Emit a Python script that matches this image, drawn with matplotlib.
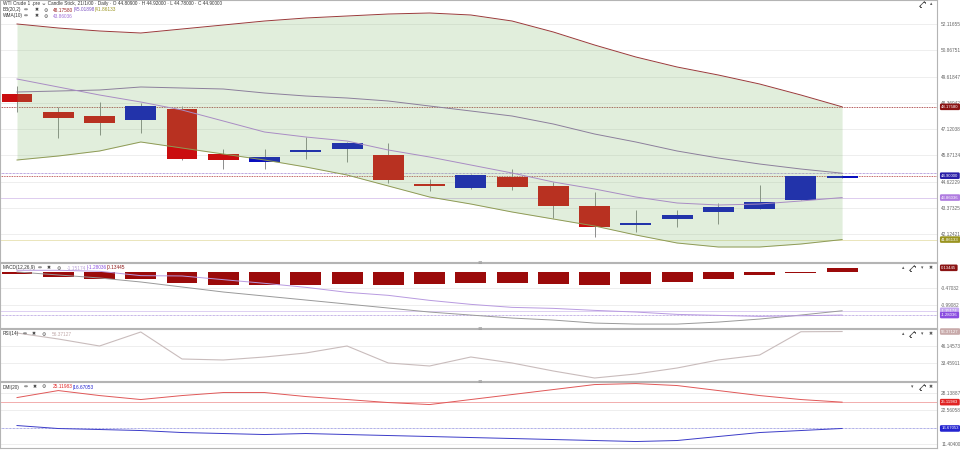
import numpy as np
import matplotlib.pyplot as plt
import matplotlib.transforms as mtransforms
from matplotlib.patches import Rectangle

plt.rcParams['font.family'] = ['Liberation Sans', 'DejaVu Sans']

W, H = 960, 458

# daily candles, WTI Crude
opens = [48.786, 47.930, 47.754, 47.535, 48.087, 45.931, 45.565, 46.013, 46.170, 45.884, 44.519,
         44.329, 44.852, 44.424, 43.473, 42.555, 42.840, 43.159, 43.330, 43.744, 44.809]
highs = [49.167, 48.168, 48.420, 48.358, 48.215, 46.170, 46.170, 46.755, 46.518, 46.456, 44.743,
         44.960, 45.233, 44.614, 44.139, 43.268, 43.268, 43.616, 44.458, 44.886, 44.920]
lows = [47.930, 46.693, 46.836, 46.931, 45.646, 45.218, 45.233, 45.680, 45.565, 44.538, 44.186,
        44.267, 44.220, 42.873, 41.998, 42.236, 42.474, 42.602, 43.302, 43.744, 44.780]
closes = [48.406, 47.645, 47.392, 48.215, 45.708, 45.646, 45.803, 46.089, 46.441, 44.695, 44.410,
          44.933, 44.377, 43.458, 42.474, 42.664, 43.030, 43.425, 43.663, 44.886, 44.900]

# Bollinger(20,2) and WMA(10)
bb_up = [52.117, 51.926, 51.784, 51.688, 51.879, 52.069, 52.259, 52.402, 52.497, 52.592, 52.640,
         52.545, 52.259, 51.736, 51.117, 50.547, 50.071, 49.690, 49.262, 48.739, 48.176]
bb_mid = [48.882, 48.929, 48.977, 49.120, 49.072, 49.024, 48.834, 48.691, 48.596, 48.453, 48.215,
          47.978, 47.739, 47.359, 46.883, 46.503, 46.075, 45.742, 45.456, 45.218, 45.019]
bb_low = [45.647, 45.837, 46.075, 46.503, 46.217, 45.932, 45.647, 45.314, 44.933, 44.410, 43.886,
          43.553, 43.173, 42.840, 42.507, 42.079, 41.698, 41.508, 41.508, 41.650, 41.861]
wma10 = [49.500, 49.119, 48.739, 48.406, 48.025, 47.502, 46.978, 46.741, 46.550, 46.122, 45.789,
         45.409, 45.028, 44.600, 44.267, 43.886, 43.601, 43.506, 43.553, 43.696, 43.860]

# MACD(12,26,9)
macd_line = [0.01, -0.08, -0.17, -0.29, -0.44, -0.59, -0.71, -0.83, -0.95, -1.07, -1.19,
             -1.28, -1.37, -1.43, -1.52, -1.55, -1.55, -1.49, -1.40, -1.28, -1.152]
macd_signal = [0.06, 0.06, 0.03, -0.10, -0.11, -0.22, -0.33, -0.45, -0.60, -0.69, -0.84,
               -0.96, -1.05, -1.08, -1.14, -1.19, -1.26, -1.29, -1.32, -1.30, -1.280]
macd_hist = [-0.05, -0.14, -0.20, -0.19, -0.33, -0.37, -0.38, -0.38, -0.35, -0.38, -0.35,
             -0.32, -0.32, -0.35, -0.38, -0.36, -0.29, -0.20, -0.08, -0.02, 0.134]

# RSI(14)
rsi = [55.30, 50.98, 45.93, 56.02, 36.56, 35.84, 38.00, 40.88, 45.93, 33.68, 31.52,
       38.00, 33.68, 27.91, 22.86, 25.75, 30.07, 35.84, 39.44, 56.20, 56.37]

# DMI(20)
dmi_plus = [26.61, 28.88, 27.26, 25.97, 27.26, 28.24, 28.24, 26.94, 25.97, 24.99, 24.34,
            25.97, 27.59, 29.21, 30.83, 31.15, 30.51, 28.88, 27.26, 25.97, 25.12]
dmi_minus = [17.53, 16.56, 16.24, 15.91, 15.26, 14.94, 14.61, 14.94, 14.61, 14.29, 13.97,
             13.64, 13.32, 12.99, 12.67, 12.34, 12.67, 13.97, 15.26, 15.91, 16.58]

price_ticks = [42.12421, 43.37325, 44.62229, 45.87134, 47.12038, 48.36942, 49.61847, 50.86751, 52.11655]
macd_ticks = [-0.47032, -0.99082]
rsi_ticks = [46.14573, 33.45911]
dmi_ticks = [28.13887, 22.56058, 11.40400]

red = '#ca0d0f'
blue = '#0a0fbe'
fs = 3.4


def box(x0, y0, x1, y1):
    return [x0 / W, 1 - y1 / H, (x1 - x0) / W, (y1 - y0) / H]


def ftext(x, y, s, ha='left', **kw):
    return fig.text(x / W, 1 - y / H, s, va='center', ha=ha, fontsize=kw.pop('fontsize', fs), **kw)


def pieces(x, y, parts):
    # colored pieces written one after the other
    r = fig.canvas.get_renderer()
    for s, col in parts:
        t = ftext(x, y, s, color=col)
        x += t.get_window_extent(r).width


def header(y, name, x_icons, x_val, parts):
    ftext(3, y, name, color='#333333')
    for xi, ch in zip(x_icons, ['\u21d4', '\u2716', '\u2699']):
        ftext(xi, y, ch, ha='center', color='#444444', family=['DejaVu Sans'])
    pieces(x_val, y, parts)


def expand_icon(x, y):
    # diagonal double arrow (no installed font has the glyph)
    fig.add_artist(plt.Line2D([(x - 2.5) / W, (x + 2.5) / W], [1 - (y + 2.5) / H, 1 - (y - 2.5) / H],
                              color='#555555', lw=0.6))
    for sx, sy in ((x + 2.5, y - 2.5), (x - 2.5, y + 2.5)):
        dx = -1.6 if sx > x else 1.6
        dy = 1.6 if sy < y else -1.6
        fig.add_artist(plt.Line2D([sx / W, (sx + dx) / W, sx / W, sx / W],
                                  [1 - sy / H, 1 - sy / H, 1 - sy / H, 1 - (sy + dy) / H],
                                  color='#555555', lw=0.6))


def badge(a, val, label, color):
    tr = mtransforms.blended_transform_factory(a.transAxes, a.transData)
    a.text(1.0045, val, label, transform=tr, fontsize=3.1, color='white', va='center', ha='left',
           clip_on=False, bbox=dict(boxstyle='round,pad=0.3', fc=color, ec='none'))


fig = plt.figure(figsize=(9.6, 4.58), dpi=100)
ax = fig.add_axes(box(0, 0, 937, 262))
ax_macd = fig.add_axes(box(0, 263, 937, 328))
ax_rsi = fig.add_axes(box(0, 329, 937, 381))
ax_dmi = fig.add_axes(box(0, 382, 937, 448))

for a in (ax, ax_macd, ax_rsi, ax_dmi):
    a.set_xlim(-0.412, 22.30)
    a.set_xticks([])
    a.yaxis.tick_right()
    a.tick_params(axis='y', length=0, labelsize=fs, colors='#666666', pad=3)
    for s in a.spines.values():
        s.set_color('#b4b4b4')
        s.set_linewidth(0.8)
    a.grid(axis='y', color='#ebebeb', lw=0.6)
    a.set_axisbelow(True)

idx = np.arange(len(closes))

# ---- main pane
for i in idx:
    o, c = opens[i], closes[i]
    col = blue if c >= o else red
    ax.vlines(i, lows[i], highs[i], color='#8c8c8c', lw=0.7, zorder=2)
    lo, hi = min(o, c), max(o, c)
    ax.add_patch(Rectangle((i - 0.375, lo), 0.75, max(hi - lo, 0.09), fc=col, ec='none', zorder=3))

ax.fill_between(idx, bb_low, bb_up, color='#78b464', alpha=0.22, lw=0, zorder=4)
ax.plot(idx, bb_up, color='#9a3a3a', lw=0.7, zorder=5)
ax.plot(idx, bb_mid, color='#8c7f9c', lw=0.7, zorder=5)
ax.plot(idx, bb_low, color='#8f9a55', lw=0.7, zorder=5)
ax.plot(idx, wma10, color='#a98cc4', lw=0.7, zorder=5)

ax.axhline(bb_up[-1], color='#9a2020', ls=(0, (1, 1)), lw=0.6, zorder=1)
ax.axhline(closes[-1], color='#b03030', ls=(0, (1, 1)), lw=0.6, zorder=1)
ax.axhline(bb_mid[-1], color='#7a50c0', ls=(0, (1, 1)), lw=0.5, zorder=1)
ax.axhline(wma10[-1], color='#d8c4ec', lw=0.6, zorder=1)
ax.axhline(bb_low[-1], color='#e6e0b0', lw=0.6, zorder=1)

ax.set_ylim(40.7941, 53.2583)
ax.set_yticks(price_ticks)
ax.set_yticklabels([f'{v:.5f}' for v in price_ticks])
badge(ax, bb_up[-1], '48.17580', '#8b1414')
badge(ax, closes[-1], '44.90000', '#2a1fa8')
badge(ax, wma10[-1], '43.86036', '#b07ce0')
badge(ax, bb_low[-1], '41.86133', '#9a9420')

# ---- MACD pane
ax_macd.bar(idx, macd_hist, width=0.75, color='#9b0a0a', zorder=3)
ax_macd.plot(idx, macd_line, color='#9a9a9a', lw=0.7, zorder=4)
ax_macd.plot(idx, macd_signal, color='#b89ae0', lw=0.7, zorder=4)
ax_macd.axhline(macd_line[-1], color='#d8c8f0', lw=0.6, zorder=1)
ax_macd.axhline(macd_signal[-1], color='#9070d0', ls=(0, (1, 1)), lw=0.5, zorder=1)
ax_macd.set_ylim(-1.6677, 0.2784)
ax_macd.set_yticks(macd_ticks)
ax_macd.set_yticklabels([f'{v:.5f}' for v in macd_ticks])
badge(ax_macd, macd_hist[-1], '0.13445', '#8b1414')
badge(ax_macd, macd_line[-1], '-1.15174', '#c4a8f0')
badge(ax_macd, macd_signal[-1], '-1.28036', '#8a4ee0')

# ---- RSI pane
ax_rsi.plot(idx, rsi, color='#c9bcbc', lw=0.8, zorder=4)
ax_rsi.set_ylim(20.70, 58.18)
ax_rsi.set_yticks(rsi_ticks)
ax_rsi.set_yticklabels([f'{v:.5f}' for v in rsi_ticks])
badge(ax_rsi, rsi[-1], '56.37127', '#c8aaaa')

# ---- DMI pane
ax_dmi.plot(idx, dmi_plus, color='#e05858', lw=0.7, zorder=4)
ax_dmi.plot(idx, dmi_minus, color='#3c3cc8', lw=0.7, zorder=4)
ax_dmi.axhline(dmi_plus[-1], color='#f0a0a0', lw=0.6, zorder=1)
ax_dmi.axhline(dmi_minus[-1], color='#6060d0', ls=(0, (1, 1)), lw=0.5, zorder=1)
ax_dmi.set_ylim(10.24, 31.66)
ax_dmi.set_yticks(dmi_ticks)
ax_dmi.set_yticklabels([f'{v:.5f}' for v in dmi_ticks])
badge(ax_dmi, dmi_plus[-1], '25.11983', '#e02424')
badge(ax_dmi, dmi_minus[-1], '16.67053', '#2424d0')

# ---- headers (pixel positions)
ftext(3, 4, 'WTI Crude 1 .pre \u21d4 Candle Stick, 21/1/00 \u00b7 Daily \u00b7 O 44.80900 \u00b7 '
      'H 44.92000 \u00b7 L 44.78000 \u00b7 C 44.90000', color='#333333')
header(10, 'BB(20,2)', (26, 37, 46), 53,
       [('48.17580', '#9a2020'), ('|45.01898', '#7a50c0'), ('|41.86133', '#9a9420')])
header(16, 'WMA(10)', (26, 37, 46), 53, [('43.86036', '#a070d8')])
header(268, 'MACD(12,26,9)', (40, 49, 59), 67,
       [('-1.15174', '#b8a0d8'), ('|-1.28036', '#8a4ee0'), ('|0.13445', '#8b1414')])
header(334, 'RSI(14)', (25, 34, 44), 52, [('56.37127', '#c0a8a8')])
header(387, 'DMI(20)', (26, 35, 44), 53, [('25.11983', '#e02424'), ('|16.67053', '#2424d0')])

# pane controls
tri = ['DejaVu Sans']
expand_icon(922, 4)
ftext(931, 4, '\u25b4', ha='center', color='#555555', family=tri)
for y in (268, 334):
    ftext(903, y, '\u25b4', ha='center', color='#555555', family=tri)
    expand_icon(912, y)
    ftext(922, y, '\u25be', ha='center', color='#555555', family=tri)
    ftext(931, y, '\u2716', ha='center', color='#555555', family=tri)
ftext(912, 387, '\u25be', ha='center', color='#555555', family=tri)
expand_icon(922, 387)
ftext(931, 387, '\u2716', ha='center', color='#555555', family=tri)

# resize handles between panes
for y in (262, 328, 381):
    ftext(480, y, '\u2261', ha='center', color='#999999', fontsize=4, family=tri)

fig.savefig('out.png', dpi=100, facecolor='white')
